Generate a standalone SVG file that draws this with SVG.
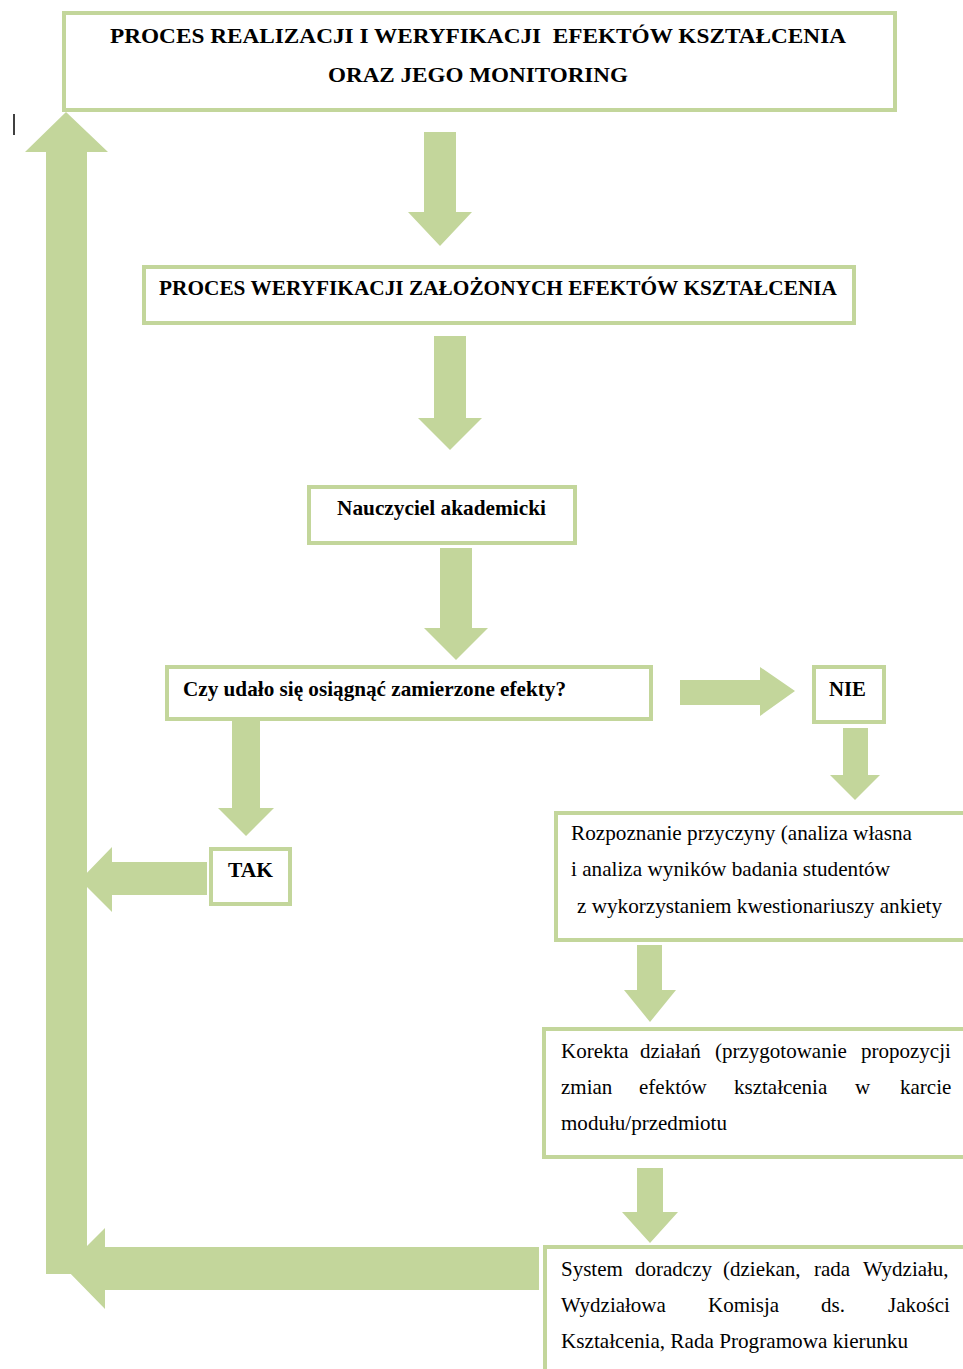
<svg xmlns="http://www.w3.org/2000/svg" width="963" height="1369" viewBox="0 0 963 1369">
<style>
.box{fill:#ffffff;stroke:#c3d69b;stroke-width:4}
.arr{fill:#c3d69b}
.b{font-family:"Liberation Serif","Times New Roman",serif;font-weight:bold;font-size:21px;fill:#000;white-space:pre}
.r{font-family:"Liberation Serif","Times New Roman",serif;font-size:21px;fill:#000;white-space:pre}
</style>
<rect x="0" y="0" width="963" height="1369" fill="#ffffff"/>
<g id="connectors">
<polygon class="arr" points="46,152 25,152 66,112 108,152 87,152 87,1274 46,1274"/>
<polygon class="arr" points="539,1247 539,1290 105,1290 105,1309 65,1268 105,1228 105,1247"/>
<polygon class="arr" points="207,862 207,895 112,895 112,912 80,880 112,847 112,862"/>
<polygon class="arr" points="424,132 456,132 456,212 472,212 440,246 408,212 424,212"/>
<polygon class="arr" points="434,336 466,336 466,418 482,418 450,450 418,418 434,418"/>
<polygon class="arr" points="440,548 472,548 472,628 488,628 456,660 424,628 440,628"/>
<polygon class="arr" points="680,680 760,680 760,667 795,691 760,716 760,705 680,705"/>
<polygon class="arr" points="843,728 868,728 868,775 880,775 855,800 830,775 843,775"/>
<polygon class="arr" points="232,721 260,721 260,808 274,808 246,836 218,808 232,808"/>
<polygon class="arr" points="637,945 662,945 662,990 676,990 650,1022 624,990 637,990"/>
<polygon class="arr" points="637,1168 663,1168 663,1212 678,1212 650,1243 622,1212 637,1212"/>
</g>
<line x1="14" y1="114" x2="14" y2="135" stroke="#000" stroke-width="1.5"/>
<g id="n1">
<rect class="box" x="64" y="13" width="831" height="97"/>
<text class="b" x="110" y="43" textLength="736" lengthAdjust="spacingAndGlyphs">PROCES REALIZACJI I WERYFIKACJI  EFEKTÓW KSZTAŁCENIA</text>
<text class="b" x="328" y="82" textLength="300" lengthAdjust="spacingAndGlyphs">ORAZ JEGO MONITORING</text>
</g>
<g id="n2">
<rect class="box" x="144" y="267" width="710" height="56"/>
<text class="b" x="159" y="295" textLength="678" lengthAdjust="spacingAndGlyphs">PROCES WERYFIKACJI ZAŁOŻONYCH EFEKTÓW KSZTAŁCENIA</text>
</g>
<g id="n3">
<rect class="box" x="309" y="487" width="266" height="56"/>
<text class="b" x="337" y="515" textLength="209" lengthAdjust="spacingAndGlyphs">Nauczyciel akademicki</text>
</g>
<g id="n4">
<rect class="box" x="167" y="667" width="484" height="52"/>
<text class="b" x="183" y="696" textLength="383" lengthAdjust="spacingAndGlyphs">Czy udało się osiągnąć zamierzone efekty?</text>
</g>
<g id="n5">
<rect class="box" x="814" y="667" width="70" height="55"/>
<text class="b" x="829" y="696" textLength="37" lengthAdjust="spacingAndGlyphs">NIE</text>
</g>
<g id="n6">
<rect class="box" x="211" y="849" width="79" height="55"/>
<text class="b" x="228" y="877" textLength="45" lengthAdjust="spacingAndGlyphs">TAK</text>
</g>
<g id="n7">
<rect class="box" x="556" y="813" width="420" height="127"/>
<text class="r" x="571" y="840" textLength="341" lengthAdjust="spacingAndGlyphs">Rozpoznanie przyczyny (analiza własna</text>
<text class="r" x="571" y="876" textLength="319" lengthAdjust="spacingAndGlyphs">i analiza wyników badania studentów</text>
<text class="r" x="577" y="913" textLength="365" lengthAdjust="spacingAndGlyphs">z wykorzystaniem kwestionariuszy ankiety</text>
</g>
<g id="n8">
<rect class="box" x="544" y="1029" width="430" height="128"/>
<text class="r" y="1058"><tspan x="561">Korekta</tspan><tspan x="640">działań</tspan><tspan x="715">(przygotowanie</tspan><tspan x="861">propozycji</tspan></text>
<text class="r" y="1094"><tspan x="561">zmian</tspan><tspan x="639">efektów</tspan><tspan x="734">kształcenia</tspan><tspan x="855">w</tspan><tspan x="900">karcie</tspan></text>
<text class="r" x="561" y="1130" textLength="166" lengthAdjust="spacingAndGlyphs">modułu/przedmiotu</text>
</g>
<g id="n9">
<rect class="box" x="545" y="1247" width="430" height="140"/>
<text class="r" y="1276"><tspan x="561">System</tspan><tspan x="635">doradczy</tspan><tspan x="723">(dziekan,</tspan><tspan x="814">rada</tspan><tspan x="863">Wydziału,</tspan></text>
<text class="r" y="1312"><tspan x="561">Wydziałowa</tspan><tspan x="708">Komisja</tspan><tspan x="821">ds.</tspan><tspan x="888">Jakości</tspan></text>
<text class="r" x="561" y="1348" textLength="347" lengthAdjust="spacingAndGlyphs">Kształcenia, Rada Programowa kierunku</text>
</g>
</svg>
